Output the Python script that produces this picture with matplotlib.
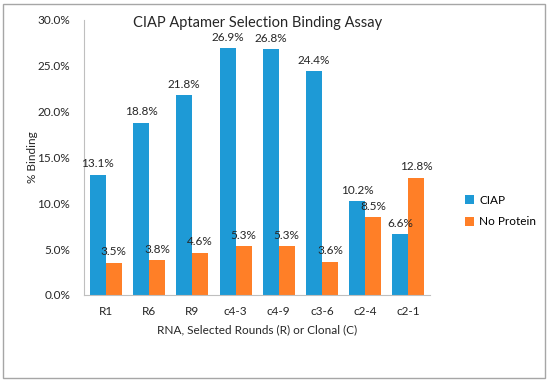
import numpy as np
import matplotlib
matplotlib.use("Agg")
import matplotlib.pyplot as plt
from matplotlib.patches import Rectangle

plt.rcParams['font.family'] = ['Lato', 'DejaVu Sans']

categories = ['R1', 'R6', 'R9', 'c4-3', 'c4-9', 'c3-6', 'c2-4', 'c2-1']
ciap = [13.1, 18.8, 21.8, 26.9, 26.8, 24.4, 10.2, 6.6]
no_protein = [3.5, 3.8, 4.6, 5.3, 5.3, 3.6, 8.5, 12.8]

blue = '#1E9AD6'
orange = '#FF7F27'
axis_gray = '#BFBFBF'
text_col = '#262626'

fig = plt.figure(figsize=(5.5, 3.84), dpi=100)
ax = fig.add_axes([0.153, 0.232, 0.629, 0.716])

x = np.arange(len(categories))
w = 0.37
b1 = ax.bar(x - w / 2, ciap, w, color=blue, label='CIAP')
b2 = ax.bar(x + w / 2, no_protein, w, color=orange, label='No Protein')

for rect, v in zip(b1, ciap):
    ax.text(rect.get_x() + rect.get_width() / 2, v + 0.6, f'{v:.1f}%',
            ha='center', va='bottom', fontsize=8.5, color=text_col)
for rect, v in zip(b2, no_protein):
    ax.text(rect.get_x() + rect.get_width() / 2, v + 0.6, f'{v:.1f}%',
            ha='center', va='bottom', fontsize=8.5, color=text_col)

ax.set_xlim(-0.5, len(categories) - 0.5)
ax.set_ylim(0, 30)
ax.set_yticks(np.arange(0, 31, 5))
ax.set_yticklabels([f'{t:.1f}%' for t in np.arange(0, 31, 5)])
ax.set_xticks(x)
ax.set_xticklabels(categories)
ax.tick_params(axis='both', length=0, labelsize=8.5, colors=text_col, pad=8)
ax.tick_params(axis='y', pad=10)

for s in ['top', 'right']:
    ax.spines[s].set_visible(False)
ax.spines['left'].set_color(axis_gray)
ax.spines['bottom'].set_color(axis_gray)

ax.set_ylabel('% Binding', fontsize=8.5, color=text_col, labelpad=0)
ax.set_xlabel('RNA, Selected Rounds (R) or Clonal (C)', fontsize=8.5, color=text_col, labelpad=5)
ax.set_title('CIAP Aptamer Selection Binding Assay', fontsize=10.5, color=text_col, y=0.975, pad=0)

ax.legend(loc='center left', bbox_to_anchor=(1.07, 0.305), frameon=False, fontsize=8.5,
          handlelength=0.8, handleheight=0.8, handletextpad=0.4, labelspacing=0.9)

fig.patches.append(Rectangle((0.006, 0.016), 0.985, 0.974, transform=fig.transFigure,
                             fill=False, edgecolor='#A6A6A6', linewidth=1.0))

fig.savefig('out.png', dpi=100)
